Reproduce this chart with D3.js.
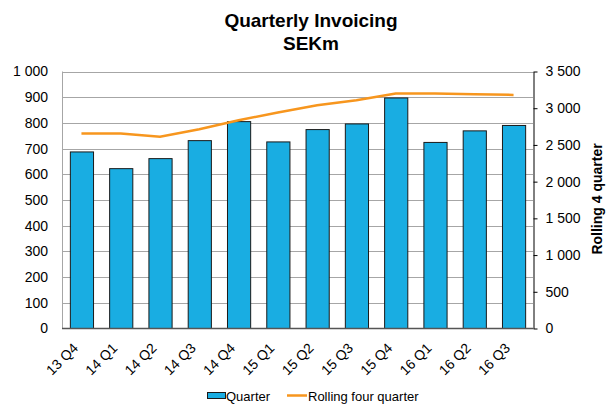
<!DOCTYPE html>
<html>
<head>
<meta charset="utf-8">
<script src="https://cdn.jsdelivr.net/npm/d3@7"></script>
<style>
body { margin: 0; background: #fff; }
text { font-family: "Liberation Sans", Arial, sans-serif; }
</style>
</head>
<body>
<div></div>
<script>
var quarters = ["13 Q4", "14 Q1", "14 Q2", "14 Q3", "14 Q4", "15 Q1", "15 Q2", "15 Q3", "15 Q4", "16 Q1", "16 Q2", "16 Q3"];
var quarterValues = [687, 622, 661, 731, 805, 726, 774, 796, 897, 724, 769, 790];
var rollingValues = [2656, 2656, 2610, 2714, 2837, 2941, 3041, 3109, 3200, 3200, 3190, 3181];
var leftTicks = [0, 100, 200, 300, 400, 500, 600, 700, 800, 900, 1000];
var rightTicks = [0, 500, 1000, 1500, 2000, 2500, 3000, 3500];

var width = 614,
    height = 405;
var plotLeft = 62, plotRight = 533, plotTop = 71.5, plotBottom = 328.5;

var svg = d3.select("div")
    .append("svg")
    .attr("width", width)
    .attr("height", height);

var fmt = function (v) { return d3.format(",")(v).replace(/,/g, " "); };

var x = d3.scaleBand()
    .domain(quarters)
    .range([plotLeft, plotRight])
    .paddingInner(0.41)
    .paddingOuter(0.2);

var y = d3.scaleLinear().domain([0, 1000]).range([plotBottom, plotTop]);
var y2 = d3.scaleLinear().domain([0, 3500]).range([plotBottom, plotTop]);

// title
svg.append("text")
    .attr("x", 311).attr("y", 27)
    .attr("text-anchor", "middle")
    .style("font-size", "19px").style("font-weight", "bold")
    .text("Quarterly Invoicing");
svg.append("text")
    .attr("x", 311).attr("y", 50)
    .attr("text-anchor", "middle")
    .style("font-size", "19px").style("font-weight", "bold")
    .text("SEKm");

// gridlines
svg.append("g")
    .selectAll("line")
    .data(leftTicks.slice(1))
    .enter()
    .append("line")
    .attr("x1", plotLeft).attr("x2", plotRight)
    .attr("y1", function (d) { return Math.round(y(d)) + 0.5; })
    .attr("y2", function (d) { return Math.round(y(d)) + 0.5; })
    .attr("stroke", "#a6a6a6")
    .attr("stroke-width", 1);

// left border
svg.append("line")
    .attr("x1", plotLeft + 0.5).attr("x2", plotLeft + 0.5)
    .attr("y1", plotTop).attr("y2", plotBottom)
    .attr("stroke", "#a6a6a6");

// left axis labels
var yAxis = svg.append("g")
    .attr("transform", "translate(" + plotLeft + ",0)")
    .call(d3.axisLeft(y).tickValues(leftTicks).tickFormat(fmt).tickSize(0).tickPadding(14));
yAxis.select(".domain").remove();
yAxis.selectAll("text").style("font-size", "14px").attr("fill", "#000");

// bars
svg.append("g")
    .selectAll("rect")
    .data(quarterValues)
    .enter()
    .append("rect")
    .attr("x", function (d, i) { return x(quarters[i]) + 0.5; })
    .attr("y", function (d) { return y(d); })
    .attr("width", x.bandwidth())
    .attr("height", function (d) { return plotBottom - y(d); })
    .attr("fill", "#19ade2")
    .attr("stroke", "#1a1a1a")
    .attr("stroke-width", 1);

// bottom axis line
svg.append("line")
    .attr("x1", plotLeft).attr("x2", plotRight)
    .attr("y1", plotBottom).attr("y2", plotBottom)
    .attr("stroke", "#555")
    .attr("stroke-width", 1.5);

// x labels
svg.append("g")
    .selectAll("text")
    .data(quarters)
    .enter()
    .append("text")
    .attr("transform", function (d) {
        return "translate(" + (x(d) + x.bandwidth() / 2 - 6) + "," + (plotBottom + 17) + ") rotate(-45)";
    })
    .attr("text-anchor", "end")
    .attr("dy", "0.35em")
    .style("font-size", "14px")
    .text(function (d) { return d; });

// rolling line
var line = d3.line()
    .x(function (d, i) { return x(quarters[i]) + x.bandwidth() / 2; })
    .y(function (d) { return y2(d); });
svg.append("path")
    .datum(rollingValues)
    .attr("d", line)
    .attr("fill", "none")
    .attr("stroke", "#f7961e")
    .attr("stroke-width", 2.5);

// right axis
var yAxis2 = svg.append("g")
    .attr("transform", "translate(" + (plotRight + 0.5) + ",0)")
    .call(d3.axisRight(y2).tickValues(rightTicks).tickFormat(fmt).tickSize(4).tickSizeOuter(0).tickPadding(8));
yAxis2.select(".domain").attr("stroke", "#000");
yAxis2.selectAll("line").attr("stroke", "#000");
yAxis2.selectAll("text").style("font-size", "14px").attr("fill", "#000");

svg.append("text")
    .attr("transform", "translate(602,199) rotate(-90)")
    .attr("text-anchor", "middle")
    .style("font-size", "14px").style("font-weight", "bold")
    .text("Rolling 4 quarter");

// legend
var legend = svg.append("g");
legend.append("rect")
    .attr("x", 207.5).attr("y", 392.5)
    .attr("width", 18).attr("height", 6)
    .attr("fill", "#19ade2").attr("stroke", "#1a1a1a");
legend.append("text")
    .attr("x", 226).attr("y", 401)
    .style("font-size", "13px")
    .text("Quarter");
legend.append("line")
    .attr("x1", 287).attr("x2", 307)
    .attr("y1", 395.5).attr("y2", 395.5)
    .attr("stroke", "#f7961e").attr("stroke-width", 2.5);
legend.append("text")
    .attr("x", 308).attr("y", 401)
    .style("font-size", "13px")
    .text("Rolling four quarter");
</script>
</body>
</html>
